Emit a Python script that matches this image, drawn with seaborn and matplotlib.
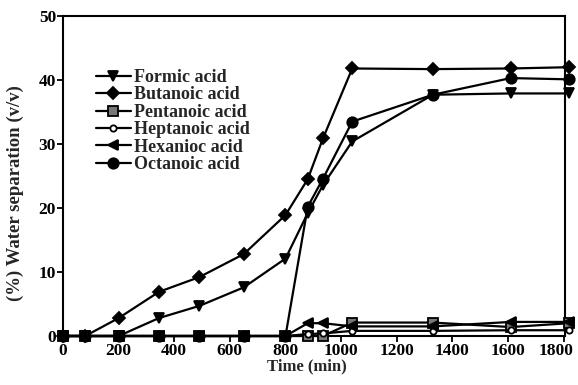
import matplotlib
matplotlib.use("Agg")
import matplotlib.pyplot as plt
import matplotlib.transforms as mtransforms
import seaborn as sns
import pandas as pd

times = [0, 80, 200, 345, 490, 650, 800, 880, 935, 1040, 1330, 1610, 1820]
formic = [0, 0, 0, 2.8, 4.7, 7.6, 12.1, 19.2, 23.6, 30.4, 37.7, 37.9, 37.9]
butanoic = [0, 0, 2.8, 6.9, 9.2, 12.8, 18.9, 24.5, 30.9, 41.8, 41.7, 41.8, 42.0]
pentanoic = [0, 0, 0, 0, 0, 0, 0, 0, 0, 2.1, 2.1, 1.4, 2.0]
heptanoic = [0, 0, 0, 0, 0, 0, 0, 0.3, 0.4, 0.8, 0.8, 0.9, 0.9]
hexanoic = [0, 0, 0, 0, 0, 0, 0, 2.0, 2.0, 1.5, 1.5, 2.2, 2.2]
octanoic = [0, 0, 0, 0, 0, 0, 0, 20.2, 24.6, 33.5, 37.7, 40.3, 40.1]

labels = ["Formic acid", "Butanoic acid", "Pentanoic acid",
          "Heptanoic acid", "Hexanioc acid", "Octanoic acid"]
series = [formic, butanoic, pentanoic, heptanoic, hexanoic, octanoic]
xticks = [0, 200, 400, 600, 800, 1000, 1200, 1400, 1600, 1800]
yticks = [0, 10, 20, 30, 40, 50]

sns.set_theme(style="ticks")
plt.rcParams['font.family'] = ['Liberation Serif', 'DejaVu Serif']
plt.rcParams['font.weight'] = 'bold'

styles = {
    "Formic acid": dict(marker="v", ms=7, mfc="black"),
    "Butanoic acid": dict(marker="D", ms=6, mfc="black"),
    "Pentanoic acid": dict(marker="s", ms=6.5, mfc="#777777"),
    "Heptanoic acid": dict(marker="o", ms=4.5, mfc="white"),
    "Hexanioc acid": dict(marker="<", ms=7, mfc="black"),
    "Octanoic acid": dict(marker="o", ms=7.5, mfc="black"),
}

fig = plt.figure(figsize=(5.78, 3.85), dpi=100)
ax = fig.add_axes([63/578, 49/385, 502/578, 320/385])

for lab, vals in zip(labels, series):
    df = pd.DataFrame({"t": times, "v": vals})
    st = styles[lab]
    sns.lineplot(data=df, x="t", y="v", ax=ax, color="black", lw=1.6,
                 marker=st["marker"], markersize=st["ms"],
                 markerfacecolor=st["mfc"], markeredgecolor="black",
                 markeredgewidth=1.3, label=lab, clip_on=False, zorder=3)

ax.set_xlim(0, 1805)
ax.set_ylim(0, 50)
ax.set_xticks(xticks)
ax.set_yticks(yticks)
ax.tick_params(direction="out", length=4, width=1.3, labelsize=12.5,
               colors="black", pad=1)
for s in ax.spines.values():
    s.set_linewidth(1.5)
    s.set_color("black")
    s.set_visible(True)
ax.set_xlabel("Time (min)", fontsize=12, fontweight="bold")
ax.set_ylabel("(%) Water separation (v/v)", fontsize=13.5, fontweight="bold")
ax.xaxis.set_label_coords(0.486, -0.094)
ax.xaxis.label.set_va("center")
ax.yaxis.set_label_coords(-0.0956, 0.447)
ax.yaxis.label.set_va("center")

# shift last x tick label slightly left as in the reference
last = ax.get_xticklabels()[-1]
last.set_transform(last.get_transform() +
                   mtransforms.ScaledTranslation(-8/100, 0, fig.dpi_scale_trans))

ax.legend(loc="upper left", bbox_to_anchor=(0.065, 0.834), frameon=False,
          prop={"size": 13, "weight": "bold"}, handlelength=1.95,
          handletextpad=0.2, labelspacing=0.02, borderpad=0, borderaxespad=0)

fig.savefig("out.png", dpi=100)
